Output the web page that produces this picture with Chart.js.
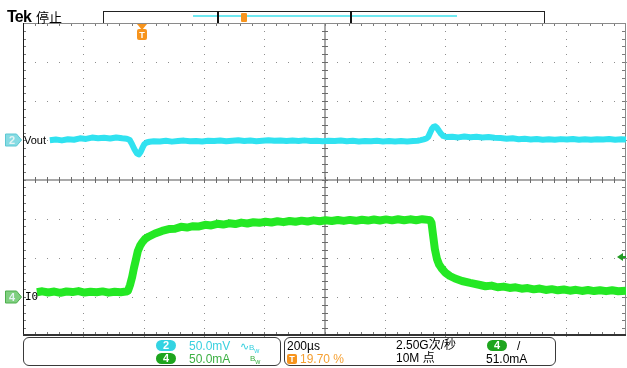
<!DOCTYPE html>
<html lang="zh">
<head>
<meta charset="UTF-8">
<title>Tek 停止</title>
<script src="https://cdn.jsdelivr.net/npm/chart.js@4.4.1/dist/chart.umd.min.js"></script>
<style>
  body {
    margin: 0;
    width: 627px;
    height: 368px;
    overflow: hidden;
    position: relative;
    background: #fff;
    font-family: 'Liberation Sans', Arial, sans-serif;
  }
  #scope { position: absolute; left: 0; top: 0; }
  .t { position: absolute; white-space: nowrap; line-height: 12px; font-size: 12px; }
  .panel { position: absolute; border: 1px solid #3a3a3a; border-radius: 6px; }
  .pill {
    position: absolute; width: 20px; height: 11px; border-radius: 6px;
    color: #fff; font-size: 11px; font-weight: bold; line-height: 11px; text-align: center;
  }
  .mk { position: absolute; width: 12px; height: 12px; line-height: 12px; text-align: center;
        font-size: 11px; font-weight: bold; color: #e6f4f4; }
  #hdr { position: absolute; left: 103px; top: 11px; width: 440px; height: 11px; border: 1px solid #222; border-bottom: none; }
</style>
</head>
<body>
<canvas id="scope" width="627" height="368"></canvas>

<div class="t" style="left:7px;top:9px;font-size:16px;line-height:16px;font-weight:bold;letter-spacing:-0.8px">Tek</div>
<div class="t" style="left:36px;top:10px;font-size:13px;line-height:14px;font-family:'Noto Sans CJK SC',sans-serif">停止</div>

<div id="hdr"></div>
<div style="position:absolute;left:193px;top:15px;width:264px;height:2px;background:#6fe9f1"></div>
<div style="position:absolute;left:217px;top:11px;width:2px;height:12px;background:#111"></div>
<div style="position:absolute;left:350px;top:11px;width:2px;height:12px;background:#111"></div>
<div style="position:absolute;left:241px;top:13px;width:6px;height:9px;background:#f7941d;border-radius:1px"></div>

<div id="m2" class="mk">2</div>
<div id="m4" class="mk">4</div>
<div id="lblV" class="t" style="font-size:11px">Vout</div>
<div id="lblI" class="t" style="font-family:'DejaVu Sans Mono',monospace;font-size:11px">I0</div>
<div id="mT" class="t" style="width:10px;text-align:center;color:#fff;font-weight:bold;font-size:9px;line-height:10px">T</div>

<div class="panel" style="left:23px;top:337px;width:256px;height:27px"></div>
<div class="panel" style="left:284px;top:337px;width:270px;height:27px"></div>

<div class="pill" style="left:156px;top:340px;background:#33d3e2">2</div>
<div class="t" style="left:189px;top:340px;color:#39d0df">50.0mV</div>
<div class="t" style="left:240px;top:340px;color:#39d0df;font-size:11px">∿<span style="font-size:8px">B<sub style="font-size:7px">w</sub></span></div>
<div class="pill" style="left:156px;top:353px;background:#1ea51e">4</div>
<div class="t" style="left:189px;top:353px;color:#3cb043">50.0mA</div>
<div class="t" style="left:250px;top:353px;color:#3cb043;font-size:8px">B<sub style="font-size:7px">w</sub></div>

<div class="t" style="left:287px;top:340px">200µs</div>
<div class="t" style="left:396px;top:339px;font-family:'Liberation Sans','Noto Sans CJK SC',sans-serif">2.50G次/秒</div>
<div class="pill" style="left:487px;top:340px;background:#1ea51e">4</div>
<div class="t" style="left:517px;top:340px">/</div>
<div style="position:absolute;left:287px;top:354px;width:10px;height:10px;background:#f7941d;border-radius:2px;color:#fff;font-size:9px;font-weight:bold;line-height:10px;text-align:center">T</div>
<div class="t" style="left:300px;top:353px;color:#f5a033">19.70 %</div>
<div class="t" style="left:396px;top:352px;font-family:'Liberation Sans','Noto Sans CJK SC',sans-serif">10M 点</div>
<div class="t" style="left:486px;top:353px">51.0mA</div>

<script>
// horizontal: 200 µs/div, trigger at 19.70 % of record
const timeMin = -394;
const timeMax = 1606;
const usPerDiv = 200;
// channel 2: 50 mV/div, ground marker one division above centre
const voutMin = -250;
const voutMax = 150;
// channel 4: 50 mA/div, ground marker three divisions below centre
const ioMin = -50;
const ioMax = 350;
const trigLevelMa = 51.0;

const voutTime = [-305, -285, -265, -245, -225, -205, -185, -165, -145, -125, -105, -85, -65, -50,
  -40, -32, -24, -16, -10, -4, 2, 8, 16, 26, 40,
  60, 80, 100, 120, 140, 160, 180, 200, 220, 240, 260, 280, 300, 320, 340, 360, 380, 400, 420,
  440, 460, 480, 500, 520, 540, 560, 580, 600, 620, 640, 660, 680, 700, 720, 740, 760, 780, 800,
  820, 840, 860, 880, 900, 915,
  925, 935, 944, 950, 956, 962, 968, 973, 979, 986, 993, 1000, 1010,
  1030, 1050, 1070, 1090, 1110, 1130, 1150, 1170, 1190, 1210, 1230, 1250, 1270, 1290, 1310, 1330,
  1350, 1370, 1390, 1410, 1430, 1450, 1470, 1490, 1510, 1530, 1550, 1570, 1590, 1606];
const voutMv = [0.1, 1.0, 0.0, 1.5, 0.8, 2.6, 1.9, 3.6, 2.7, 3.3, 2.3, 3.7, 2.6, 2.2,
  0.5, -5.2, -11.6, -16.7, -18.0, -14.8, -9.7, -5.2, -2.7, -1.8, -1.0,
  -1.4, -0.6, -1.6, -0.9, -0.3, -1.2, -0.7, -1.5, -0.4, -0.9, -0.2, -1.1, -0.5, 0.1, -0.8, -0.3, -1.0, -0.4, 0.2,
  -0.6, -0.1, -0.9, -0.3, -0.7, 0.0, -0.8, -0.4, -1.1, -0.5, -0.9, -0.2, -1.0, -0.6, -1.3, -0.7, -1.2, -0.6, -1.4,
  -0.9, -1.5, -0.8, -1.3, -0.7, -0.4,
  0.3, 1.2, 2.4, 4.3, 9.5, 14.6, 17.4, 18.0, 16.1, 12.0, 8.2, 5.6, 4.3,
  4.6, 3.8, 4.9, 4.0, 4.5, 3.6, 4.2, 3.3, 2.9, 2.2, 2.6, 1.5, 2.0, 1.1, 1.7, 0.9,
  1.5, 0.8, 1.6, 1.0, 1.8, 0.9, 1.4, 0.7, 1.5, 1.0, 1.7, 0.8, 1.3, 1.0];

const ioTime = [-348, -330, -310, -290, -270, -250, -230, -210, -190, -170, -150, -130, -110, -90, -70, -52,
  -46, -39, -32, -26, -19, -13, -6, 1, 11, 24, 44, 67, 93,
  110, 130, 150, 170, 190, 210, 230, 250, 270, 290, 310, 330, 350, 370, 390, 410, 430, 450, 470, 490,
  510, 530, 550, 570, 590, 610, 630, 650, 670, 690, 710, 730, 750, 770, 790, 810, 830, 850, 870, 890,
  910, 930, 950,
  956, 961, 966, 972, 979, 986, 996, 1006, 1022, 1039, 1062, 1089, 1122,
  1140, 1160, 1180, 1200, 1220, 1240, 1260, 1280, 1300, 1320, 1340, 1360, 1380, 1400, 1420, 1440,
  1460, 1480, 1500, 1520, 1540, 1560, 1580, 1606];
const ioMa = [6.0, 7.1, 5.6, 6.8, 5.2, 6.9, 6.1, 7.4, 5.5, 6.6, 5.9, 7.0, 5.4, 6.5, 6.0, 6.8,
  7.5, 15.2, 25.4, 36.9, 48.4, 58.7, 65.1, 69.5, 74.0, 77.2, 81.0, 84.2, 86.8,
  87.0, 89.5, 88.6, 90.4, 90.0, 92.1, 91.3, 93.4, 92.4, 94.0, 93.1, 94.9, 93.8, 95.4, 94.6, 96.0, 95.0, 96.6, 95.5, 97.0,
  96.0, 97.4, 96.3, 97.8, 96.6, 98.0, 96.9, 98.3, 97.1, 98.4, 97.2, 98.6, 97.5, 98.9, 97.6, 99.0, 97.8, 99.2, 97.9, 99.1,
  98.0, 99.3, 98.4,
  98.0, 94.4, 79.1, 61.2, 48.4, 41.4, 35.7, 31.2, 26.7, 23.5, 20.3, 17.8, 15.2,
  13.6, 14.4, 12.3, 13.1, 11.4, 12.2, 10.5, 11.3, 9.6, 10.6, 8.9, 9.9, 8.4, 9.4, 7.9, 9.0,
  7.6, 8.7, 7.4, 8.5, 7.3, 8.4, 7.2, 8.0];

const traceCyan = '#30e2f0';
const traceGreen = '#24e824';

const graticule = {
  id: 'graticule',
  beforeDatasetsDraw(chart) {
    const { ctx, chartArea: a } = chart;
    const x = chart.scales.x, yv = chart.scales.yv;
    const ctrT = timeMin + 5 * usPerDiv, ctrV = (voutMin + voutMax) / 2;
    const px = t => Math.round(x.getPixelForValue(t));
    const py = v => Math.round(yv.getPixelForValue(v));
    ctx.save();
    // dotted division lines
    ctx.fillStyle = '#8e8e8e';
    for (let i = 1; i < 10; i++) {
      if (i === 5) continue;
      const gx = px(timeMin + i * usPerDiv);
      for (let j = 0; j <= 40; j++) ctx.fillRect(gx, py(voutMin + j * 10), 1, 1);
    }
    for (let k = 1; k < 8; k++) {
      if (k === 4) continue;
      const gy = py(voutMin + k * 50);
      for (let j = 0; j <= 50; j++) ctx.fillRect(px(timeMin + j * 40), gy, 1, 1);
    }
    // centre cross
    const cx = px(ctrT), cy = py(ctrV);
    ctx.fillStyle = '#a9a9a9';
    ctx.fillRect(cx - 1, a.top, 2, a.bottom - a.top);
    ctx.fillRect(a.left, cy - 1, a.right - a.left, 2);
    ctx.fillStyle = '#6a6a6a';
    for (let j = 1; j < 40; j++) ctx.fillRect(cx - 3, py(voutMin + j * 10), 6, 1);
    for (let j = 1; j < 50; j++) ctx.fillRect(px(timeMin + j * 40), cy - 3, 1, 6);
    // frame ticks
    ctx.fillStyle = '#7a7a7a';
    for (let j = 1; j < 50; j++) {
      const tx = px(timeMin + j * 40);
      ctx.fillRect(tx, a.top, 1, 3);
      ctx.fillRect(tx, a.bottom - 4, 1, 3);
    }
    for (let j = 1; j < 40; j++) {
      const ty = py(voutMin + j * 10);
      ctx.fillRect(a.left, ty, 3, 1);
      ctx.fillRect(a.right - 4, ty, 3, 1);
    }
    // frame
    ctx.fillStyle = '#8a8a8a';
    ctx.fillRect(a.left, a.top, a.right - a.left, 1);
    ctx.fillRect(a.right - 1, a.top, 1, a.bottom - a.top);
    ctx.fillStyle = '#1a1a1a';
    ctx.fillRect(a.left, a.top, 1, a.bottom - a.top);
    ctx.fillStyle = '#333';
    ctx.fillRect(a.left, a.bottom - 2, a.right - a.left, 2);
    ctx.restore();
  },
  afterDatasetsDraw(chart) {
    const { ctx, chartArea: a } = chart;
    const x = chart.scales.x, yv = chart.scales.yv, yi = chart.scales.yi;
    ctx.save();
    const marker = (y, fill, edge) => {
      ctx.beginPath();
      ctx.moveTo(5.5, y - 6); ctx.lineTo(16.5, y - 6); ctx.lineTo(21.5, y);
      ctx.lineTo(16.5, y + 6); ctx.lineTo(5.5, y + 6); ctx.closePath();
      ctx.fillStyle = fill; ctx.fill();
      ctx.strokeStyle = edge; ctx.lineWidth = 1; ctx.stroke();
    };
    marker(Math.round(yv.getPixelForValue(0)), '#86dbe3', '#5cc8d3');
    marker(Math.round(yi.getPixelForValue(0)), '#7fcf7f', '#4cae4c');
    // trigger position
    const tx = Math.round(x.getPixelForValue(0));
    ctx.fillStyle = '#f7941d';
    ctx.beginPath();
    ctx.moveTo(tx - 5, a.top + 1); ctx.lineTo(tx + 5, a.top + 1); ctx.lineTo(tx, a.top + 7); ctx.closePath();
    ctx.fill();
    ctx.beginPath();
    ctx.roundRect(tx - 5, a.top + 6, 10, 11, 2);
    ctx.fill();
    // trigger level
    const ty = Math.round(yi.getPixelForValue(trigLevelMa));
    ctx.fillStyle = '#229a22';
    ctx.beginPath();
    ctx.moveTo(a.right - 9, ty); ctx.lineTo(a.right - 3, ty - 4); ctx.lineTo(a.right - 3, ty + 4); ctx.closePath();
    ctx.fill();
    ctx.fillRect(a.right - 4, ty - 1, 4, 2);
    ctx.restore();
  }
};

const chart = new Chart(document.getElementById('scope'), {
  type: 'line',
  data: {
    datasets: [
      {
        label: 'Vout',
        data: voutTime.map((t, i) => ({ x: t, y: voutMv[i] })),
        yAxisID: 'yv',
        borderColor: traceCyan,
        borderWidth: 6,
        pointRadius: 0,
        tension: 0,
        borderJoinStyle: 'round'
      },
      {
        label: 'I0',
        data: ioTime.map((t, i) => ({ x: t, y: ioMa[i] })),
        yAxisID: 'yi',
        borderColor: traceGreen,
        borderWidth: 8,
        pointRadius: 0,
        tension: 0,
        borderJoinStyle: 'round'
      }
    ]
  },
  options: {
    responsive: false,
    animation: false,
    devicePixelRatio: 1,
    layout: { padding: { left: 23, right: 1, top: 23, bottom: 32 } },
    plugins: { legend: { display: false }, tooltip: { enabled: false } },
    scales: {
      x: { type: 'linear', min: timeMin, max: timeMax, display: false },
      yv: { type: 'linear', min: voutMin, max: voutMax, display: false },
      yi: { type: 'linear', min: ioMin, max: ioMax, display: false }
    }
  },
  plugins: [graticule]
});

// put the marker texts on the same scale positions
const setPos = (id, left, top) => {
  const el = document.getElementById(id);
  el.style.left = left + 'px';
  el.style.top = top + 'px';
};
const y2 = Math.round(chart.scales.yv.getPixelForValue(0));
const y4 = Math.round(chart.scales.yi.getPixelForValue(0));
setPos('m2', 6, y2 - 6);
setPos('m4', 6, y4 - 6);
setPos('lblV', 24, y2 - 6);
setPos('lblI', 25, y4 - 6);
setPos('mT', Math.round(chart.scales.x.getPixelForValue(0)) - 5, chart.chartArea.top + 7);
</script>
</body>
</html>
